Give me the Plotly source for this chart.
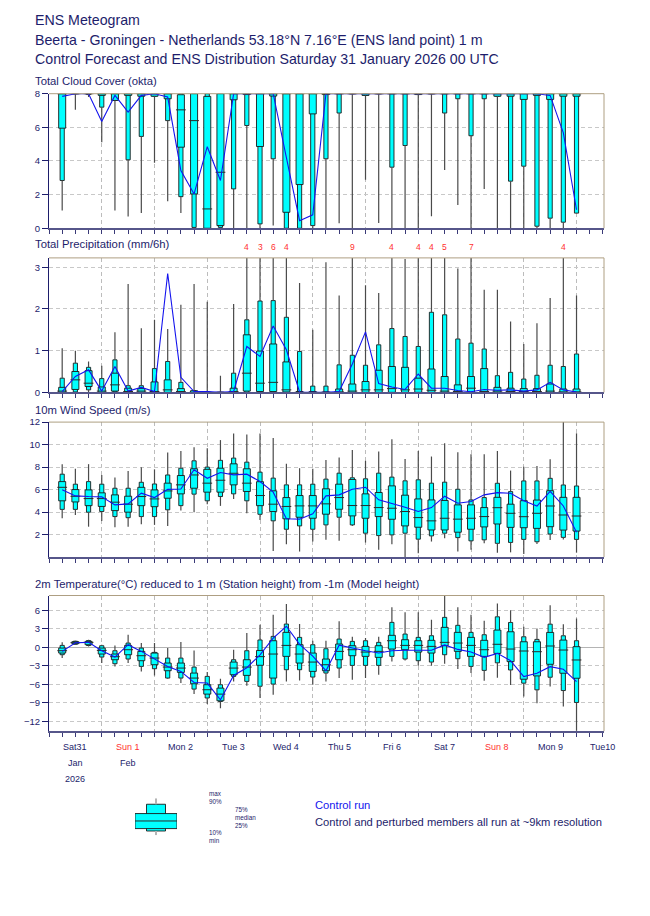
import plotly.graph_objects as go

# The page body adds an 8 px margin, so the figure is drawn 8 px smaller and all
# positions below are given in reference-picture pixels and converted.
OFF = 8
PAGE_W, PAGE_H = 650, 916
W, H = PAGE_W - OFF, PAGE_H - OFF
ML = 49 - OFF
MR = 46
PW = W - ML - MR
V_SCALE, V_SHIFT = 0.9867, 6.8   # empirical vertical correction of the rendered page
FONT = "Liberation Sans, Arial, Helvetica, sans-serif"
NAVY = "#1d1d6b"
CYAN = "#00ffff"
EDGE = "#1a1a1a"
WHISK = "#4a4a4a"
CTRL = "#1414ee"
RED = "#ff2f2f"

# ---------------- categories ----------------
STEP_H = [6, 12, 18, 24, 30, 36, 42, 48, 54, 60, 66, 72, 78, 84, 90, 96, 102, 108, 114, 120,
          126, 132, 138, 144, 150, 156, 162, 168, 174, 180, 186, 192, 198, 204, 210, 216, 222, 228, 234, 240]
DAY_START_H = [0, 24, 48, 72, 96, 120, 144, 168, 192, 216, 240]
DAY_LABEL_H = [12, 36, 60, 84, 108, 132, 156, 180, 204, 228, 252]
DAY_LABELS = ["Sat31", "Sun 1", "Mon 2", "Tue 3", "Wed 4", "Thu 5", "Fri 6", "Sat 7", "Sun 8", "Mon 9", "Tue10"]
DAY_IS_SUNDAY = [False, True, False, False, False, False, False, False, True, False, False]
MONTH_LABELS = ["Jan", "Feb"]
MONTH_LABEL_H = [12, 36]
YEAR_LABEL = "2026"
YEAR_LABEL_H = 12

# ---------------- total cloud cover (okta) ----------------
CLOUD_MIN = [1.05, 7.04, 7.8, 5.12, 1.05, 0.7, 0.9, 3.9, 1.6, 0.9, 0, 0, 0, 0, 0, 0, 0.16, 0, 0, 0,
             0, 0.3, 0, 2.88, 0.32, 0, 0, 0, 0.71, 3.47, 1.39, 0, 2.34, 0, 0, 0, 0, 0, 0, 0.9]
CLOUD_P10 = [2.84, 8, 7.95, 7.2, 7.6, 4.07, 5.46, 7.85, 6.4, 1.88, 0.05, 0, 0.05, 2.34, 6.11, 0.26, 4.13, 0, 0, 0.16,
             4.13, 6.85, 8, 7.9, 8, 3.63, 4.92, 7.95, 8, 6.85, 7.7, 5.5, 7.7, 7.85, 2.8, 3.69, 0.12, 0.6, 0.36, 0.9]
CLOUD_P25 = [5.95, 8, 8, 7.9, 7.6, 7.9, 7.85, 7.85, 7.7, 4.82, 2.04, 0, 0.16, 7.64, 7.95, 4.86, 7.86, 0.95, 2.6, 6.8,
             7.95, 8, 8, 7.9, 8, 8, 8, 7.95, 8, 8, 8, 8, 8, 7.85, 7.85, 7.66, 7.9, 7.66, 7.85, 7.85]
CLOUD_MED = [8, 8, 8, 8, 8, 8, 8, 8, 8, 7.04, 6.4, 1.15, 3.33, 8, 8, 8, 8, 8, 8, 8,
             8, 8, 8, 8, 8, 8, 8, 8, 8, 8, 8, 8, 8, 8, 8, 8, 8, 8, 8, 8]
CLOUD_P75 = [8, 8, 8, 8, 8, 8, 8, 8, 8, 7.94, 8, 7.84, 8, 8, 8, 8, 8, 8, 8, 8,
             8, 8, 8, 8, 8, 8, 8, 8, 8, 8, 8, 8, 8, 8, 8, 8, 8, 8, 8, 8]
CLOUD_P90 = [8] * 40
CLOUD_MAX = [8] * 40
CLOUD_CTRL = [7.84, 8, 8, 6.35, 7.9, 6.9, 7.9, 8, 7.8, 3.43, 2.04, 4.85, 2.84, 8, 8, 8, 8, 4.2, 0.45, 0.8,
              8, 8, 8, 8, 8, 8, 8, 8, 8, 8, 8, 8, 8, 8, 8, 8, 8, 7.9, 5.67, 1.1]

# ---------------- total precipitation (mm/6h) ----------------
PREC_MIN = [0] * 40
PREC_P10 = [0, 0.01, 0.06, 0, 0.01, 0, 0, 0, 0, 0, 0, 0, 0, 0, 0, 0, 0, 0, 0, 0,
            0, 0, 0, 0, 0, 0, 0, 0, 0, 0, 0, 0, 0, 0, 0, 0, 0, 0, 0, 0]
PREC_P25 = [0, 0.07, 0.14, 0, 0.03, 0, 0, 0, 0, 0, 0, 0, 0, 0, 0.03, 0.02, 0.02, 0.01, 0, 0,
            0, 0, 0, 0, 0, 0, 0, 0, 0, 0, 0, 0, 0, 0, 0, 0, 0, 0, 0, 0]
PREC_MED = [0.03, 0.3, 0.22, 0.03, 0.18, 0.02, 0.03, 0.02, 0.06, 0.02, 0, 0, 0, 0.02, 0.46, 0.22, 0.24, 0.06, 0, 0,
            0, 0.01, 0.03, 0.06, 0.06, 0.09, 0.06, 0.08, 0.05, 0.03, 0.02, 0.1, 0.02, 0.03, 0.02, 0.02, 0.02, 0.03, 0.01, 0.01]
PREC_P75 = [0.12, 0.5, 0.52, 0.13, 0.46, 0.1, 0.09, 0.25, 0.3, 0.09, 0.04, 0, 0, 0.1, 1.38, 0.99, 1.16, 0.73, 0.02, 0.02,
            0.01, 0.08, 0.2, 0.26, 0.53, 0.62, 0.6, 0.34, 0.56, 0.38, 0.18, 0.38, 0.57, 0.12, 0.1, 0.09, 0.09, 0.2, 0.08, 0.08]
PREC_P90 = [0.34, 0.7, 0.6, 0.33, 0.78, 0.16, 0.16, 0.57, 0.74, 0.24, 0.04, 0.01, 0, 0.46, 1.74, 2.19, 2.2, 1.8, 0.98, 0.15,
            0.15, 0.66, 0.89, 0.65, 1.14, 1.53, 1.34, 1.1, 1.92, 1.86, 1.28, 1.18, 1.04, 0.4, 0.48, 0.32, 0.41, 0.65, 0.62, 0.92]
PREC_MAX = [1.06, 1.0, 0.74, 0.64, 1.44, 2.6, 1.54, 1.74, 1.52, 2.1, 2.6, 2.17, 0.4, 2.12, 4.1, 3.4, 6.2, 4.2, 2.62, 1.5,
            3.12, 2.32, 9.1, 2.57, 2.38, 4.0, 3.2, 4.3, 4.4, 5.2, 2.97, 7.1, 2.46, 2.46, 1.7, 1.16, 1.66, 2.26, 4.2, 2.32]
PREC_CTRL = [0.02, 0.38, 0.54, 0.03, 0.62, 0.03, 0.12, 0.02, 2.85, 0.36, 0.02, 0.02, 0.0, 0.02, 1.1, 0.86, 1.59, 1.02, 0.01, 0.0,
             0.0, 0.02, 0.68, 1.45, 0.21, 0.13, 0.07, 0.44, 0.1, 0.1, 0.045, 0.015, 0.07, 0.05, 0.06, 0.03, 0.06, 0.24, 0.06, 0.01]

# ---------------- 10m wind speed (m/s) ----------------
WIND_MIN = [3.46, 3.75, 2.7, 3.2, 2.65, 2.7, 2.92, 2.86, 2.77, 4.13, 3.99, 4.7, 4.55, 5.17, 3.9, 3.3, 0.55, 1.14, 0.49, 1.38,
            1.53, 1.44, 2.77, 1.29, 0.64, 1.14, 0.0, 0.34, 1.38, 1.67, 0.49, 0.64, 1.23, 0.39, 0.42, 0.27, 1.16, 1.51, 1.57, 0.39]
WIND_P10 = [4.24, 4.24, 3.99, 4.05, 3.6, 3.5, 3.6, 3.6, 4.2, 4.57, 5.59, 5.0, 5.38, 5.62, 5.0, 3.8, 3.22, 2.47, 2.77, 2.47,
            2.86, 3.54, 2.86, 2.12, 1.91, 1.97, 2.12, 1.59, 1.88, 2.12, 1.73, 1.44, 1.53, 1.22, 1.3, 1.57, 1.36, 2.05, 1.75, 1.57]
WIND_P25 = [5.0, 4.9, 4.57, 4.5, 4.13, 3.99, 4.57, 4.48, 5.23, 5.62, 6.12, 5.77, 5.77, 6.42, 5.83, 4.57, 4.05, 3.4, 3.54, 3.45,
            3.81, 4.25, 3.66, 3.45, 3.6, 3.36, 2.77, 2.65, 2.41, 2.41, 2.21, 2.47, 2.68, 2.94, 2.64, 2.61, 2.55, 2.7, 2.4, 2.31]
WIND_MED = [6.2, 5.4, 5.2, 5.2, 4.88, 4.7, 5.38, 5.17, 5.88, 6.42, 7.3, 6.57, 6.83, 7.45, 6.57, 5.47, 4.7, 4.5, 4.55, 4.55,
            4.73, 5.29, 4.58, 4.58, 4.4, 4.34, 4.05, 3.51, 3.22, 3.45, 3.37, 3.45, 3.6, 4.39, 3.89, 3.59, 3.89, 4.54, 3.74, 3.65]
WIND_P75 = [6.71, 6.0, 5.97, 5.71, 5.53, 5.41, 6.2, 5.97, 6.57, 7.25, 7.85, 7.8, 7.9, 8.29, 7.85, 6.7, 5.89, 5.29, 5.47, 5.47,
            6.07, 6.48, 6.9, 5.62, 5.74, 6.33, 5.5, 5.17, 5.08, 5.03, 4.64, 4.64, 4.4, 5.31, 4.7, 5.01, 5.07, 5.9, 5.31, 5.31]
WIND_P90 = [7.37, 6.48, 6.71, 6.48, 6.12, 6.12, 6.65, 6.5, 7.3, 7.9, 8.56, 8.0, 8.6, 8.8, 8.44, 7.55, 7.02, 6.42, 6.42, 6.48,
            6.93, 7.46, 7.05, 6.96, 7.46, 7.11, 6.78, 6.87, 6.57, 6.66, 6.03, 5.08, 5.29, 6.56, 5.82, 6.77, 6.77, 7.0, 6.41, 6.32]
WIND_MAX = [8.26, 7.85, 8.26, 7.3, 7.07, 7.66, 7.98, 7.8, 9.3, 9.44, 9.77, 9.68, 10.4, 10.98, 10.9, 10.98, 10.58, 8.3, 7.9, 7.85,
            8.62, 8.85, 9.53, 8.56, 9.39, 10.48, 8.71, 9.44, 8.94, 10.13, 9.33, 9.15, 9.15, 9.44, 7.69, 8.04, 8.1, 8.7, 12.0, 11.0]
WIND_CTRL = [5.98, 5.44, 5.38, 5.35, 4.64, 4.73, 5.68, 5.29, 6.02, 6.05, 7.76, 7.0, 7.52, 7.31, 7.37, 6.72, 5.77, 3.4, 3.37, 3.84,
             5.44, 5.53, 6.03, 6.21, 5.09, 4.79, 4.43, 4.05, 4.4, 5.41, 4.79, 4.94, 5.53, 5.73, 5.67, 5.01, 4.54, 5.85, 4.54, 2.2]

# ---------------- 2m temperature (degC) ----------------
TEMP_MIN = [-1.73, 0.43, 0.16, -2.54, -3.08, -2.54, -3.89, -4.54, -5.08, -5.78, -7.57, -9.19, -9.84, -5.51, -6.22, -8.2, -7.68, -5.51, -5.35, -6.05,
            -5.51, -4.97, -5.24, -4.97, -4.43, -2.27, -2.11, -2.97, -2.97, -2.65, -3.51, -4.16, -5.41, -4.9, -6.08, -7.96, -9.03, -6.34, -9.57, -13.5]
TEMP_P10 = [-1.19, 0.5, 0.3, -1.57, -2.65, -1.89, -3.08, -3.46, -4.97, -4.97, -6.76, -8.2, -8.76, -4.7, -5.51, -6.3, -5.95, -3.62, -3.62, -4.81,
            -4.16, -3.35, -2.92, -2.92, -2.92, -1.46, -1.89, -2.16, -2.38, -1.19, -1.84, -3.08, -3.73, -2.5, -3.66, -5.8, -6.88, -4.84, -6.99, -8.92]
TEMP_P25 = [-0.92, 0.6, 0.43, -1.08, -2.0, -1.19, -2.16, -2.81, -3.78, -4.05, -5.89, -7.57, -8.65, -4.43, -4.54, -2.9, -4.97, -1.46, -2.54, -3.89,
            -3.78, -2.0, -1.35, -1.46, -1.62, -0.27, -0.38, -0.76, -0.92, 0.27, -0.65, -1.46, -1.46, -0.97, -2.31, -5.16, -4.62, -2.74, -4.19, -5.0]
TEMP_MED = [-0.54, 0.76, 0.81, -0.49, -1.51, -0.38, -1.35, -1.73, -3.19, -3.35, -4.97, -6.86, -7.57, -3.35, -3.19, -1.5, -1.08, 0.32, -1.08, -2.38,
            -2.81, -0.65, -0.38, -0.76, -0.65, 1.08, 0.32, 0.32, 0.16, 0.81, 0.7, 0.32, -0.38, 0.5, -0.27, -0.59, -0.7, 0.22, -0.43, -2.04]
TEMP_P75 = [-0.11, 0.92, 0.97, -0.11, -1.08, 0.32, -0.65, -0.92, -2.54, -2.54, -4.16, -6.05, -6.6, -2.38, -2.0, -0.5, 1.08, 2.43, 0.43, -0.92,
            -1.89, 0.54, 0.27, 0.16, 0.27, 1.95, 1.24, 1.08, 1.14, 3.24, 2.43, 1.62, 1.14, 2.8, 2.53, 0.91, 0.91, 2.42, 1.18, 0.11]
TEMP_P90 = [0.32, 1.0, 1.1, 0.27, -0.54, 0.7, -0.11, -0.81, -1.73, -1.73, -3.19, -4.7, -6.05, -2.0, -0.54, 1.2, 1.78, 3.78, 1.62, 0.43,
            -0.22, 1.35, 0.97, 1.08, 0.81, 4.05, 2.16, 1.62, 1.89, 4.86, 3.57, 2.43, 2.05, 4.95, 4.03, 1.72, 1.29, 3.76, 1.88, 1.08]
TEMP_MAX = [0.81, 1.08, 1.24, 0.43, 0.32, 2.05, 0.7, 0.7, -0.11, 0.86, -0.49, -4.0, -5.08, -0.38, 2.32, 3.65, 5.3, 7.03, 3.78, 1.08,
            1.08, 4.22, 1.73, 1.51, 1.73, 6.49, 5.68, 5.68, 4.49, 8.43, 6.49, 5.3, 4.32, 7.1, 6.0, 3.33, 3.06, 6.83, 3.76, 4.68]
TEMP_CTRL = [-0.65, 0.76, 0.81, -0.54, -1.57, 0.43, -0.65, -1.89, -3.08, -3.89, -5.68, -5.78, -8.49, -4.54, -3.3, -1.2, 1.5, 3.42, 0.48, -1.43,
             -3.78, 0.35, -0.13, -0.55, -0.9, -0.55, -0.46, -0.46, -0.46, 0.4, -0.33, -0.76, -1.62, -0.97, -2.15, -4.73, -4.19, -3.12, -3.55, -5.54]

# ---------------- legend sample distribution (min, p10, p25, median, p75, p90, max) ----------------
LEGEND_Q = [0, 4.3, 6.7, 14.3, 21.7, 31, 37]


# ---------------- layout helpers (reference pixels -> paper coords) ----------------
def py(px):
    page = (px - V_SHIFT) / V_SCALE
    return 1 - (page - OFF) / H


def pxx(px):
    return (px - OFF - ML) / PW


fig = go.Figure()

WIDE_W = 3.2     # hours
NARROW_W = 1.9


def add_dist(xa, ya, x, mn, p10, p25, med, p75, p90, mx, wide_w, narrow_w, whisk_col, whisk_th, med_size):
    fig.add_trace(go.Bar(x=x, base=p10, y=[b - a for a, b in zip(p10, p90)], width=narrow_w,
                         marker=dict(color=CYAN, line=dict(color=EDGE, width=0.9)),
                         xaxis=xa, yaxis=ya, hoverinfo="skip", showlegend=False))
    fig.add_trace(go.Bar(x=x, base=p25, y=[b - a for a, b in zip(p25, p75)], width=wide_w,
                         marker=dict(color=CYAN, line=dict(color=EDGE, width=0.9)),
                         xaxis=xa, yaxis=ya, hoverinfo="skip", showlegend=False))
    # lower whisker (min -> p10) and upper whisker (p90 -> max)
    fig.add_trace(go.Scatter(x=x, y=p10, mode="markers", marker=dict(size=2, color="rgba(0,0,0,0)"),
                             error_y=dict(type="data", symmetric=False, array=[0] * len(x),
                                          arrayminus=[a - b for a, b in zip(p10, mn)],
                                          width=0, thickness=whisk_th, color=whisk_col),
                             xaxis=xa, yaxis=ya, hoverinfo="skip", showlegend=False))
    fig.add_trace(go.Scatter(x=x, y=p90, mode="markers", marker=dict(size=2, color="rgba(0,0,0,0)"),
                             error_y=dict(type="data", symmetric=False, arrayminus=[0] * len(x),
                                          array=[b - a for a, b in zip(p90, mx)],
                                          width=0, thickness=whisk_th, color=whisk_col),
                             xaxis=xa, yaxis=ya, hoverinfo="skip", showlegend=False))
    fig.add_trace(go.Scatter(x=x, y=med, mode="markers",
                             marker=dict(symbol="line-ew", size=med_size, color=EDGE,
                                         line=dict(color="#2a2a2a", width=1)),
                             xaxis=xa, yaxis=ya, hoverinfo="skip", showlegend=False))


panels = [
    dict(top=94.3, bot=228.7, rng=[0, 8], ticks=[0, 2, 4, 6, 8],
         q=(CLOUD_MIN, CLOUD_P10, CLOUD_P25, CLOUD_MED, CLOUD_P75, CLOUD_P90, CLOUD_MAX), ctrl=CLOUD_CTRL,
         title="Total Cloud Cover (okta)", ty=81.5, zero=False),
    dict(top=258.3, bot=392.6, rng=[0, 3.224], ticks=[0, 1, 2, 3],
         q=(PREC_MIN, PREC_P10, PREC_P25, PREC_MED, PREC_P75, PREC_P90, PREC_MAX), ctrl=PREC_CTRL,
         title="Total Precipitation (mm/6h)", ty=244.5, zero=False),
    dict(top=422.3, bot=557.1, rng=[0, 12], ticks=[2, 4, 6, 8, 10, 12],
         q=(WIND_MIN, WIND_P10, WIND_P25, WIND_MED, WIND_P75, WIND_P90, WIND_MAX), ctrl=WIND_CTRL,
         title="10m Wind Speed (m/s)", ty=410.5, zero=False),
    dict(top=595.5, bot=731.0, rng=[-13.57, 8.4], ticks=[-12, -9, -6, -3, 0, 3, 6],
         q=(TEMP_MIN, TEMP_P10, TEMP_P25, TEMP_MED, TEMP_P75, TEMP_P90, TEMP_MAX), ctrl=TEMP_CTRL,
         title="2m Temperature(\u00b0C) reduced to 1 m (Station height) from -1m (Model height)", ty=584.5, zero=True),
]

annotations = []
shapes = []
for k, p in enumerate(panels, start=1):
    sfx = "" if k == 1 else str(k)
    xa, ya = "x" + sfx, "y" + sfx
    add_dist(xa, ya, STEP_H, *p["q"], WIDE_W, NARROW_W, WHISK, 1.2, 7)
    fig.add_trace(go.Scatter(x=STEP_H, y=p["ctrl"], mode="lines", line=dict(color=CTRL, width=1.1),
                             xaxis=xa, yaxis=ya, hoverinfo="skip", showlegend=False))
    fig.layout["xaxis" + sfx] = dict(
        domain=[0, 1], range=[0, 252.5], anchor=ya, matches=None if k == 1 else "x",
        showline=True, linecolor="#56568a", linewidth=2,
        tickmode="array", tickvals=DAY_START_H, ticks="outside", ticklen=4, tickcolor="#3a3a78",
        showticklabels=False, showgrid=True, gridcolor="#bcbcbc", gridwidth=1, griddash="4px,3px",
        zeroline=False, fixedrange=True,
        minor=dict(tickmode="linear", tick0=0, dtick=6, ticks="outside", ticklen=4,
                   tickcolor="#3a3a78", showgrid=False),
    )
    fig.layout["yaxis" + sfx] = dict(
        domain=[py(p["bot"]), py(p["top"])], range=p["rng"], anchor=xa,
        tickmode="array", tickvals=p["ticks"], ticks="outside", ticklen=6, tickcolor=NAVY,
        tickfont=dict(size=9.5, color=NAVY, family=FONT),
        showline=True, linecolor=NAVY, linewidth=1,
        showgrid=True, gridcolor="#c8c8c8", gridwidth=1, griddash="4px,3px",
        zeroline=p["zero"], zerolinecolor="#b4b4b4", zerolinewidth=1, fixedrange=True,
    )
    # tan frame on top and right
    shapes.append(dict(type="line", xref=xa + " domain", yref=ya + " domain", x0=0, x1=1, y0=1, y1=1,
                       line=dict(color="#ae9f82", width=1)))
    shapes.append(dict(type="line", xref=xa + " domain", yref=ya + " domain", x0=1, x1=1, y0=0, y1=1,
                       line=dict(color="#ae9f82", width=1)))
    annotations.append(dict(text=p["title"], xref="paper", yref="paper", x=pxx(33), y=py(p["ty"]),
                            xanchor="left", yanchor="middle", showarrow=False,
                            font=dict(size=11.3, color=NAVY, family=FONT)))

# red labels for precipitation maxima beyond the scale
prec_top = panels[1]["rng"][1]
for h, v in zip(STEP_H, PREC_MAX):
    if v > prec_top:
        annotations.append(dict(text=str(int(round(v))), xref="x2", yref="paper", x=h, y=py(247),
                                xanchor="center", yanchor="middle", showarrow=False,
                                font=dict(size=8.5, color=RED, family=FONT)))

# main titles
for txt, yy in [("ENS Meteogram", 21),
                ("Beerta - Groningen - Netherlands 53.18\u00b0N 7.16\u00b0E (ENS land point) 1 m", 40.5),
                ("Control Forecast and ENS Distribution Saturday 31 January 2026 00 UTC", 59.5)]:
    annotations.append(dict(text=txt, xref="paper", yref="paper", x=pxx(33), y=py(yy),
                            xanchor="left", yanchor="middle", showarrow=False,
                            font=dict(size=14.2, color=NAVY, family=FONT)))

# day labels under the bottom panel
for h, lab, sun in zip(DAY_LABEL_H, DAY_LABELS, DAY_IS_SUNDAY):
    annotations.append(dict(text=lab, xref="x4", yref="paper", x=h, y=py(746.5),
                            xanchor="center", yanchor="middle", showarrow=False,
                            font=dict(size=9, color=RED if sun else NAVY, family=FONT)))
for h, lab in zip(MONTH_LABEL_H, MONTH_LABELS):
    annotations.append(dict(text=lab, xref="x4", yref="paper", x=h, y=py(763),
                            xanchor="center", yanchor="middle", showarrow=False,
                            font=dict(size=9, color=NAVY, family=FONT)))
annotations.append(dict(text=YEAR_LABEL, xref="x4", yref="paper", x=YEAR_LABEL_H, y=py(779),
                        xanchor="center", yanchor="middle", showarrow=False,
                        font=dict(size=9, color=NAVY, family=FONT)))

# legend glyph (sample distribution drawn with the same marks)
add_dist("x5", "y5", [0], *[[v] for v in LEGEND_Q], 1.615, 0.73, "#b4b4b4", 2, 42)
fig.layout["xaxis5"] = dict(domain=[pxx(135), pxx(177)], range=[-0.807, 0.807], anchor="y5",
                            visible=False, fixedrange=True)
fig.layout["yaxis5"] = dict(domain=[py(835), py(798)], range=[0, 37], anchor="x5",
                            visible=False, fixedrange=True)

for txt, xx, yy in [("max<br>90%", 207, 797), ("75%<br>median<br>25%", 233, 817), ("10%<br>min", 207, 836)]:
    annotations.append(dict(text=txt, xref="paper", yref="paper", x=pxx(xx), y=py(yy),
                            xanchor="left", yanchor="middle", align="left", showarrow=False,
                            font=dict(size=6.3, color=NAVY, family=FONT)))
annotations.append(dict(text="Control run", xref="paper", yref="paper", x=pxx(313), y=py(805),
                        xanchor="left", yanchor="middle", showarrow=False,
                        font=dict(size=11.2, color=CTRL, family=FONT)))
annotations.append(dict(text="Control and perturbed members all run at ~9km resolution", xref="paper",
                        yref="paper", x=pxx(313), y=py(822), xanchor="left", yanchor="middle",
                        showarrow=False, font=dict(size=11.2, color=NAVY, family=FONT)))

fig.update_layout(
    width=W, height=H, autosize=False,
    margin=dict(l=ML, r=MR, t=0, b=0, pad=0),
    paper_bgcolor="white", plot_bgcolor="white",
    barmode="overlay", showlegend=False,
    font=dict(family=FONT, color=NAVY),
    annotations=annotations, shapes=shapes,
)

fig.write_html("out.html")
